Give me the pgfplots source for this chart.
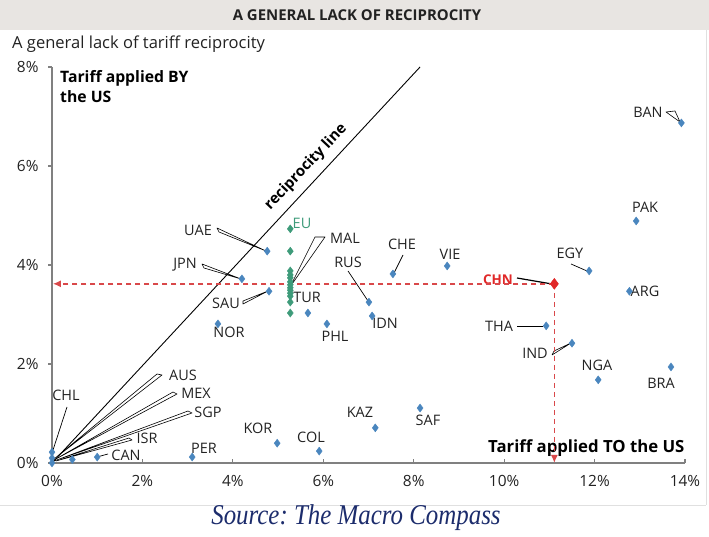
\documentclass[border=0pt]{standalone}
\usepackage{graphicx}
\usepackage{pgfplots}
\pgfplotsset{compat=1.18}
\usepackage{fontspec}
\setmainfont{Open Sans}
\newfontfamily\srcfont{Liberation Serif}
\usetikzlibrary{arrows.meta}
\definecolor{ptblue}{HTML}{4A86BE}
\definecolor{ptgreen}{HTML}{3E9B7A}
\definecolor{ptred}{HTML}{E02828}
\definecolor{dashred}{HTML}{D9484A}
\definecolor{axgray}{HTML}{808080}
\definecolor{txt}{HTML}{222222}
\definecolor{band}{HTML}{E8E5E2}
\definecolor{navy}{HTML}{1C2C6C}

\pgfplotstableread{
x y
13.92 6.87
12.92 4.89
11.88 3.88
12.77 3.47
10.93 2.77
11.50 2.42
12.08 1.68
13.69 1.94
8.74 3.98
7.54 3.82
7.01 3.25
7.08 2.97
6.08 2.81
5.66 3.03
4.80 3.47
4.76 4.28
4.20 3.72
3.67 2.81
8.14 1.11
7.15 0.71
4.98 0.40
5.91 0.24
3.10 0.12
0 0.22
0 0.10
0 0.00
0.45 0.07
1.00 0.12
}\bluepts

\pgfplotstableread{
x y
5.27 4.73
5.27 4.28
5.27 3.88
5.27 3.80
5.27 3.74
5.27 3.66
5.27 3.60
5.27 3.54
5.27 3.49
5.27 3.43
5.27 3.37
5.27 3.25
5.27 3.03
}\greenpts

\begin{document}
\frenchspacing
\begin{tikzpicture}
\begin{scope}[x=1bp,y=1bp,
  lab/.style={font=\fontsize{14.5}{17}\selectfont, text=txt, inner sep=0pt},
  lead/.style={black, line width=0.7bp},
  wedge/.style={draw=black, line width=0.6bp, fill=white, line join=round}]
\path[use as bounding box] (0,0) rectangle (709,537);
\fill[band] (0,507) rectangle (709,537);
\draw[black!12, line width=0.8bp] (706,32) -- (706,507);
\draw[black!12, line width=0.8bp] (0,32) -- (706,32);
\node[font=\bfseries\fontsize{15}{18}\selectfont, text=txt] at (357,522) {A GENERAL LACK OF RECIPROCITY};
\node[anchor=west, font=\fontsize{16.6}{19}\selectfont, text=txt, inner sep=0pt] at (12,493) {A general lack of tariff reciprocity};

% leaders
\draw[lead] (53,87)--(67,130);
\filldraw[wedge] (54,78)--(157,163)--(162,162)--cycle;
\filldraw[wedge] (54,77)--(173,145)--(177,143)--cycle;
\filldraw[wedge] (54,76)--(188,126)--(192,124)--cycle;
\filldraw[wedge] (56,76)--(129,99)--(132,97)--cycle;
\draw[lead] (97,80)--(108,83);
\filldraw[wedge] (217,309)--(219,305)--(266,286)--cycle;
\filldraw[wedge] (202,273)--(204,269)--(241,258)--cycle;
\filldraw[wedge] (243,236)--(243,233)--(268,246)--cycle;
\filldraw[wedge] (290,250)--(315,300)--(325,300)--cycle;
\draw[lead] (348,266)--(368,236);
\draw[lead] (403,282)--(394,264);
\draw[black, line width=1.2bp] (517,259)--(552,253);
\draw[lead] (571,273)--(587,266);
\draw[lead] (517,211)--(543,211);
\filldraw[wedge] (552,182)--(554,186)--(571,194)--cycle;
\filldraw[wedge] (666,425)--(675,426)--(680,415)--cycle;

% labels
\node[lab] at (66,142) {CHL};
\node[lab] at (183,162) {AUS};
\node[lab] at (196,144) {MEX};
\node[lab] at (208,125) {SGP};
\node[lab] at (147,99) {ISR};
\node[lab] at (126,82) {CAN};
\node[lab] at (204,89) {PER};
\node[lab] at (258,109) {KOR};
\node[lab] at (311,100) {COL};
\node[lab] at (360,125) {KAZ};
\node[lab] at (428,117) {SAF};
\node[lab] at (229,205) {NOR};
\node[lab] at (335,201) {PHL};
\node[lab] at (307,240) {TUR};
\node[lab] at (226,234) {SAU};
\node[lab] at (185,272) {JPN};
\node[lab] at (198,307) {UAE};
\node[lab, text=ptgreen] at (302,314) {EU};
\node[lab] at (345,299) {MAL};
\node[lab] at (348,275) {RUS};
\node[lab] at (385,214) {IDN};
\node[lab] at (402,293) {CHE};
\node[lab] at (450,283) {VIE};
\node[lab, text=ptred, font=\bfseries\fontsize{13.5}{16}\selectfont] at (498,257) {CHN};
\node[lab] at (570,284) {EGY};
\node[lab] at (645,330) {PAK};
\node[lab] at (645,246) {ARG};
\node[lab] at (499,211) {THA};
\node[lab] at (535,184) {IND};
\node[lab] at (597,172) {NGA};
\node[lab] at (661,154) {BRA};
\node[lab] at (648,425) {BAN};

\node[anchor=base west, inner sep=0pt, font=\bfseries\fontsize{15.8}{18}\selectfont, text=black] at (60,454) {Tariff applied BY};
\node[anchor=base west, inner sep=0pt, font=\bfseries\fontsize{15.8}{18}\selectfont, text=black] at (60,434) {the US};
\node[anchor=base west, inner sep=0pt, font=\bfseries\fontsize{16.8}{19}\selectfont, text=black] at (488,84) {Tariff applied TO the US};
\node[rotate=46.5, inner sep=0pt, font=\bfseries\fontsize{15}{18}\selectfont, text=black] at (306,370) {reciprocity line};
\node[text=navy, inner sep=0pt] at (356,19) {\scalebox{1}[1.15]{\srcfont\itshape\fontsize{25}{28}\selectfont Source: The Macro Compass}};
\end{scope}

\begin{axis}[
  at={(52bp,74bp)}, anchor=south west, scale only axis,
  width=633bp, height=396bp,
  xmin=0, xmax=14, ymin=0, ymax=8, clip=false,
  axis x line=bottom, axis y line=left,
  axis line style={-, draw=axgray, line width=1.3bp},
  xtick={0,2,4,6,8,10,12,14}, ytick={0,2,4,6,8},
  xticklabels={0\%,2\%,4\%,6\%,8\%,10\%,12\%,14\%},
  yticklabels={0\%,2\%,4\%,6\%,8\%},
  xtick align=inside, ytick align=outside,
  major tick length=4bp,
  tick style={draw=axgray, line width=1.1bp},
  tick label style={font=\fontsize{15.5}{18}\selectfont, text=txt},
  xticklabel style={yshift=-9bp},
  yticklabel style={xshift=-6bp},
]
\addplot[black, line width=0.9bp] coordinates {(0,0) (8.14,8.0)};
\addplot[dashred, line width=1.4bp, dash pattern=on 5bp off 4bp, -{Latex[length=8bp,width=7bp]}] coordinates {(11.11,3.62) (0.02,3.62)};
\addplot[dashred, line width=1.4bp, dash pattern=on 5bp off 4bp, -{Latex[length=8bp,width=7bp]}] coordinates {(11.11,3.62) (11.11,0.0)};
\addplot[only marks, mark=diamond*, mark size=4bp, color=ptblue] table[x=x,y=y] {\bluepts};
\addplot[only marks, mark=diamond*, mark size=4bp, color=ptgreen] table[x=x,y=y] {\greenpts};
\addplot[only marks, mark=diamond*, mark size=5.5bp, color=ptred] coordinates {(11.11,3.62)};
\end{axis}
\end{tikzpicture}
\end{document}
